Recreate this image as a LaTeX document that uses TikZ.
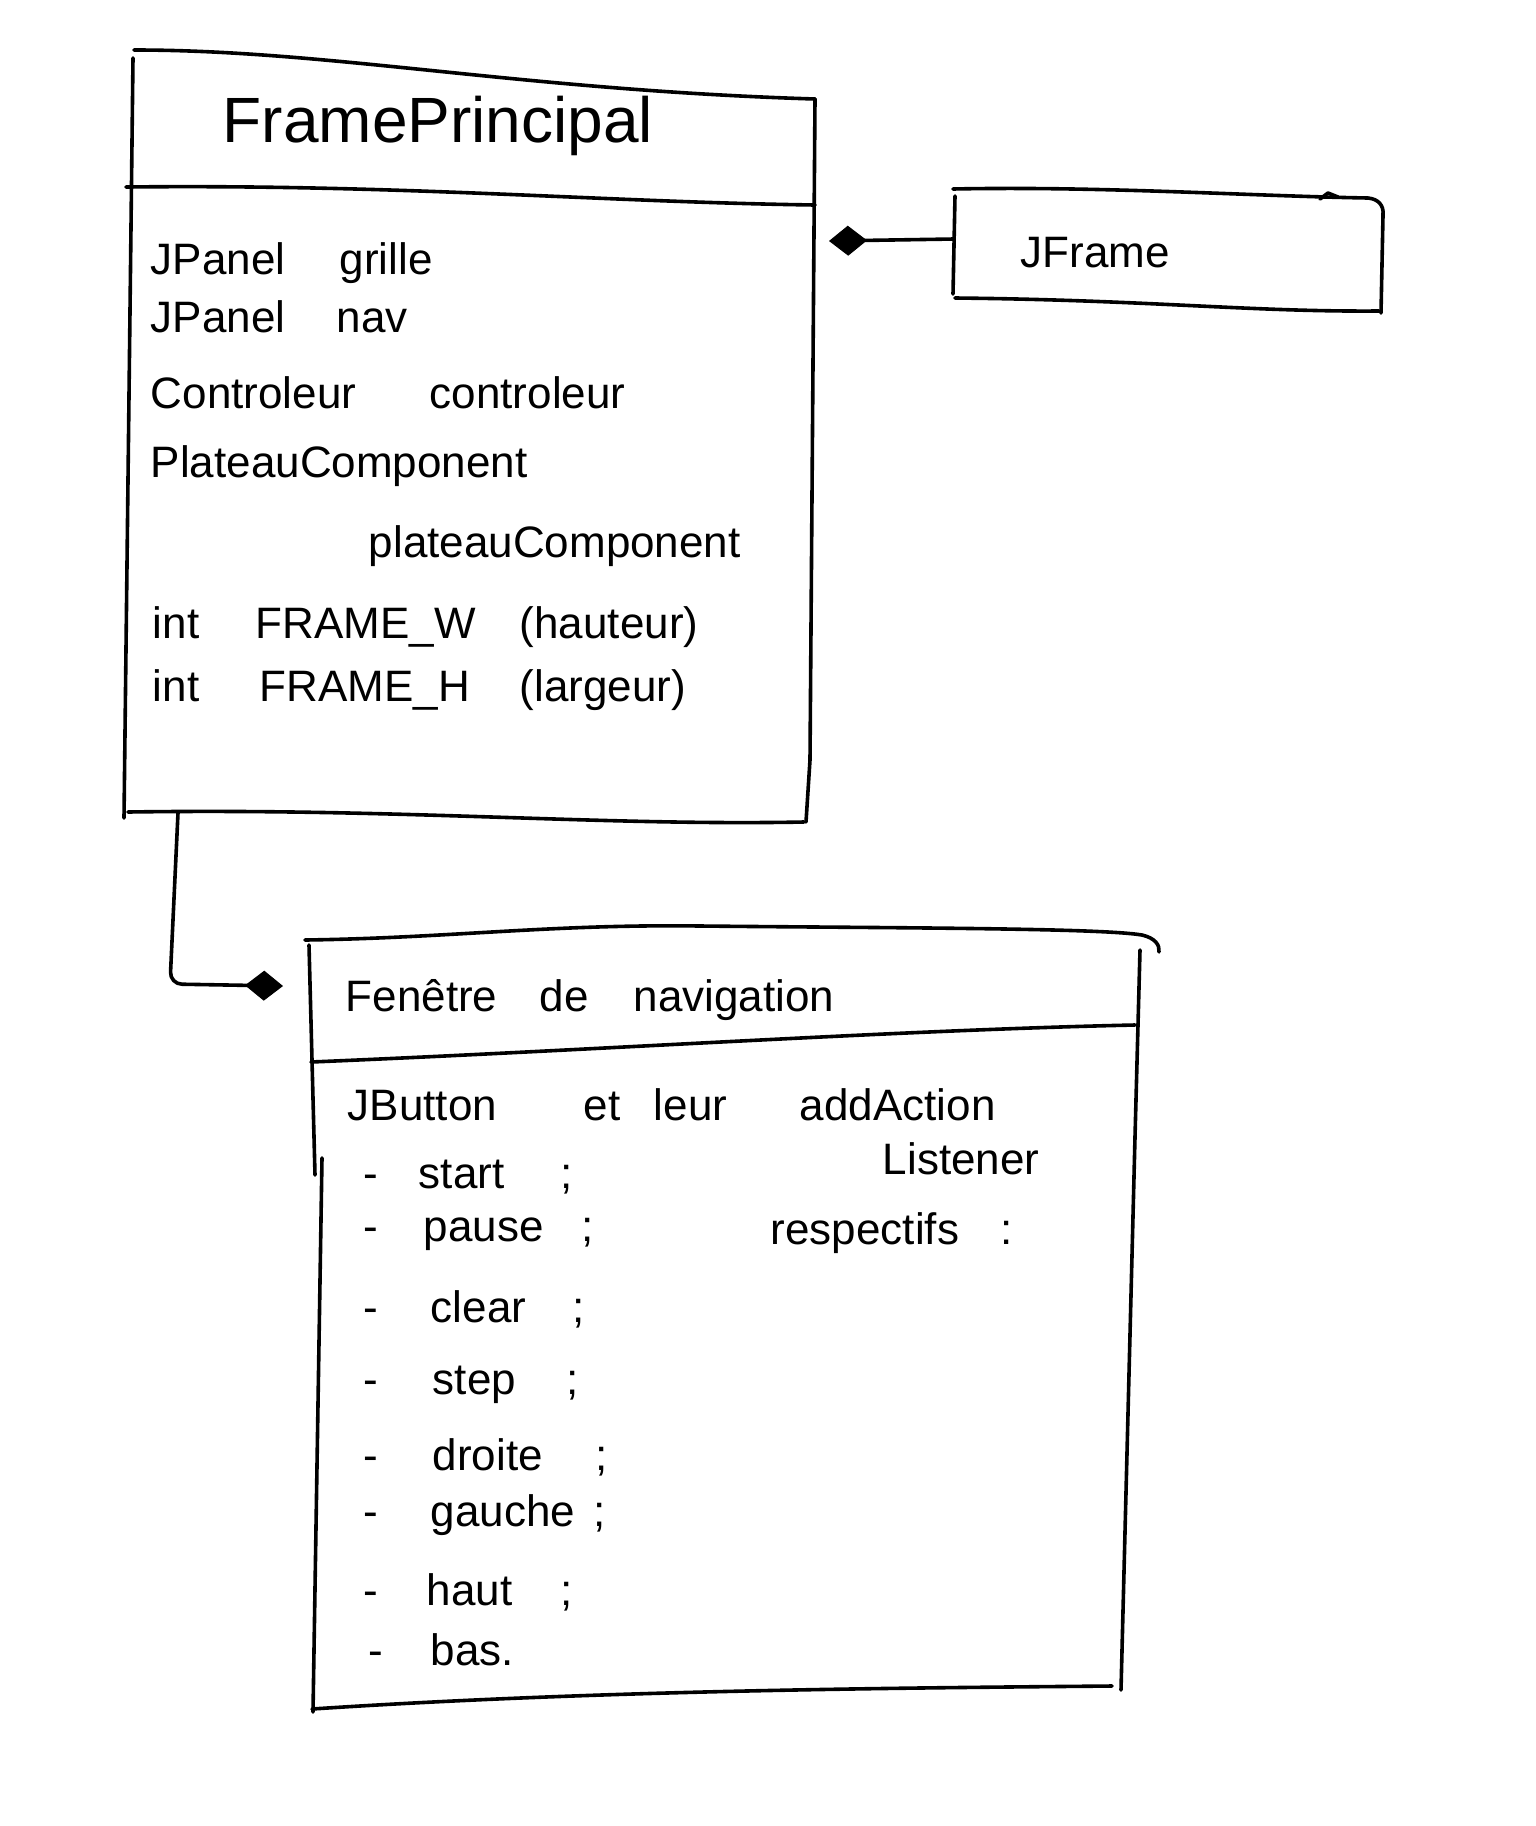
\documentclass[tikz,border=0pt]{standalone}
\usepackage{fontspec}
\setmainfont{Liberation Sans}
\usetikzlibrary{arrows.meta}
\begin{document}
\begin{tikzpicture}[x=1pt,y=-1pt,line width=3.6pt,line cap=round,line join=round,
  txt/.style={anchor=base west,inner sep=0pt,font=\fontsize{44}{48}\selectfont},
  ttl/.style={anchor=base west,inner sep=0pt,font=\fontsize{64}{70}\selectfont},
  comp/.style={-{Diamond[length=38pt,width=30pt,line width=1pt]}}]
\useasboundingbox[fill=white] (0,0) rectangle (1536,1826);

% ---------- FramePrincipal box ----------
\coordinate (b1tl) at (134,50);
\coordinate (b1tr) at (815,99);
\draw (b1tl) .. controls (330,50) and (520,90) .. (b1tr);
\draw (133,58) -- (124,818);
\draw (b1tr) -- (810,760) -- (806,822);
\draw (128,812) .. controls (400,808) and (600,826) .. (804,822);
\draw (126,187) .. controls (400,184) and (600,202) .. (815,205);

\node[ttl] (title) at (221,142) {FramePrincipal};

\node[txt] (a1) at (149,274) {JPanel};
\node[txt] (a1n) at (338,274) {grille};
\node[txt] (a2) at (149,332) {JPanel};
\node[txt] (a2n) at (335,332) {nav};
\node[txt] (a3) at (149,408) {Controleur};
\node[txt] (a3n) at (428,408) {controleur};
\node[txt] (a4) at (149,477) {PlateauComponent};
\node[txt] (a4n) at (367,557) {plateauComponent};
\node[txt] (a5) at (151,638) {int};
\node[txt] (a5n) at (254,638) {FRAME\_W};
\node[txt] (a5c) at (518,638) {(hauteur)};
\node[txt] (a6) at (151,701) {int};
\node[txt] (a6n) at (258,701) {FRAME\_H};
\node[txt] (a6c) at (518,701) {(largeur)};

% ---------- JFrame box ----------
\draw (953,189) .. controls (1100,186) and (1250,196) .. (1368,198)
      .. controls (1378,199) and (1384,205) .. (1383,215) -- (1381,313);
\draw (1320,199) -- (1328,193) -- (1338,197);
\draw (955,196) -- (953,294);
\draw (955,298) .. controls (1150,300) and (1250,312) .. (1379,311);
\node[txt] (jf) at (1019,267) {JFrame};

% ---------- connectors ----------
\coordinate (jfw) at (954,239);
\coordinate (c1e) at (829,241);
\draw[comp] (jfw) -- (c1e);

\coordinate (c2s) at (178,813);
\coordinate (c2e) at (283,986);
\draw[comp,rounded corners=12pt] (c2s) -- (170,984) -- (c2e);

% ---------- Fenetre de navigation box ----------
\draw (305,940) .. controls (450,938) and (550,924) .. (700,926)
      .. controls (900,928) and (1100,928) .. (1142,935)
      .. controls (1155,938) and (1160,945) .. (1159,952);
\draw (309,945) -- (315,1175);
\draw (322,1158) -- (313,1712);
\draw (1140,950) -- (1135,1137) -- (1121,1690);
\draw (312,1709) .. controls (600,1690) and (900,1688) .. (1112,1686);
\draw (311,1062) .. controls (600,1050) and (900,1030) .. (1135,1025);

\node[txt] (t1) at (344,1011) {Fenêtre};
\node[txt] (t2) at (538,1011) {de};
\node[txt] (t3) at (632,1011) {navigation};

\node[txt] (u1) at (346,1120) {JButton};
\node[txt] (u2) at (582,1120) {et};
\node[txt] (u3) at (652,1120) {leur};
\node[txt] (u4) at (798,1120) {addAction};
\node[txt] (u5) at (881,1174) {Listener};
\node[txt] (u6) at (769,1244) {respectifs};
\node[txt] (u7) at (999,1244) {:};

\foreach \w/\wx/\yy/\sx/\n in {start/417/1188/559/1, pause/422/1241/580/2,
   clear/429/1322/571/3, step/431/1394/565/4, droite/431/1470/594/5,
   gauche/429/1526/592/6, haut/425/1605/559/7}{
  \node[txt] (d\n) at (362,\yy) {-};
  \node[txt] (w\n) at (\wx,\yy) {\w};
  \node[txt] (s\n) at (\sx,\yy) {;};
}
\node[txt] (d8) at (367,1665) {-};
\node[txt] (w8) at (429,1665) {bas.};
\end{tikzpicture}
\end{document}
